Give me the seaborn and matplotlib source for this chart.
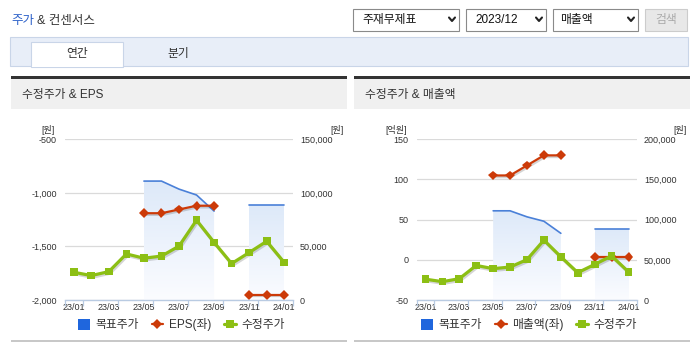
import numpy as np
import pandas as pd
import matplotlib
matplotlib.use('Agg')
import matplotlib.pyplot as plt
import matplotlib.patheffects as pe
import seaborn as sns
from matplotlib.patches import Rectangle
from matplotlib.lines import Line2D
from matplotlib.colors import LinearSegmentedColormap
from matplotlib.ticker import FuncFormatter

# data
months = ['23/01', '23/02', '23/03', '23/04', '23/05', '23/06', '23/07',
          '23/08', '23/09', '23/10', '23/11', '23/12', '24/01']
price = [25900, 22800, 26500, 43000, 39000, 41000, 50300,
         74500, 53800, 34000, 44300, 54800, 35000]
target = [np.nan, np.nan, np.nan, np.nan, 111000, 111000, 103500,
          98000, 83000, np.nan, 88500, 88500, 88500]
eps = [np.nan, np.nan, np.nan, np.nan, -1190, -1190, -1155,
       -1120, -1120, np.nan, -1950, -1950, -1950]
revenue = [np.nan, np.nan, np.nan, np.nan, 105, 105, 117.5,
           130, 130, np.nan, 3.3, 3.3, 3.3]

eps_ticks = [-2000, -1500, -1000, -500]
rev_ticks = [-50, 0, 50, 100, 150]
price_ticks_l = [0, 50000, 100000, 150000]
price_ticks_r = [0, 50000, 100000, 150000, 200000]

df = pd.DataFrame({'month': months, 'price': price, 'target': target,
                   'eps': eps, 'revenue': revenue})
df['x'] = np.arange(len(df)) + 0.5

sns.set_theme(style='white')
FAM = ['Liberation Sans', 'Noto Sans CJK KR', 'DejaVu Sans']
plt.rcParams['font.family'] = FAM

C_BLUE = '#4a80d8'
C_BLUE_SQ = '#1f66dd'
C_RED = '#cc3a08'
C_GREEN = '#8cbf14'
C_AXIS = '#b9cbe2'
C_TXT = '#333333'
TICK_FS = 6.5

W, H = 698, 352
fig = plt.figure(figsize=(W / 100, H / 100), dpi=100)


def fx(x):
    return x / W


def fy(y):
    return 1 - y / H


def frect(x0, y0, x1, y1, **kw):
    fig.add_artist(Rectangle((fx(x0), fy(y1)), (x1 - x0) / W, (y1 - y0) / H,
                             transform=fig.transFigure, **kw))


def ftext(x, y, s, **kw):
    kw.setdefault('color', C_TXT)
    kw.setdefault('va', 'center')
    fig.text(fx(x), fy(y), s, **kw)


def chevron(cx, cy):
    fig.add_artist(Line2D([fx(cx - 3), fx(cx), fx(cx + 3)],
                          [fy(cy - 2), fy(cy + 1.5), fy(cy - 2)],
                          transform=fig.transFigure, color='#222', lw=1.5))


# ---- page chrome ----
ftext(11, 21, '주가', fontsize=9, color='#2a5fc8')
ftext(37, 21, '& 컨센서스', fontsize=9)

frect(353, 9, 459, 31, facecolor='white', edgecolor='#8a8a8a', lw=0.8)
ftext(362, 20, '주재무제표', fontsize=8.5, color='#111')
chevron(452, 19.5)
frect(466, 9, 546, 31, facecolor='white', edgecolor='#8a8a8a', lw=0.8)
ftext(475, 20, '2023/12', fontsize=8.5, color='#111')
chevron(539, 19.5)
frect(553, 9, 638, 31, facecolor='white', edgecolor='#8a8a8a', lw=0.8)
ftext(560, 20, '매출액', fontsize=8.5, color='#111')
chevron(631, 19.5)
frect(645, 9, 687, 31, facecolor='#e8e8e8', edgecolor='#cccccc', lw=0.8)
ftext(666, 20, '검색', fontsize=8.5, color='#aaaaaa', ha='center')

frect(10, 37, 688, 66, facecolor='#e8eef8', edgecolor='#c9d5e8', lw=0.8)
frect(31, 42, 123, 66.6, facecolor='white', edgecolor='#c9d5e8', lw=0.8)
frect(31.5, 65.5, 122.5, 67, facecolor='white', edgecolor='none')
ftext(77, 54, '연간', fontsize=8.5, ha='center')
ftext(178, 54, '분기', fontsize=8.5, ha='center')

for x0, x1 in [(11, 347), (354, 690)]:
    frect(x0, 78.5, x1, 109, facecolor='#f0f0f0', edgecolor='none')
    frect(x0, 76.5, x1, 78.5, facecolor='#333333', edgecolor='none')
    frect(x0, 108.5, x1, 109.3, facecolor='#dcdcdc', edgecolor='none')
    frect(x0, 339.5, x1, 341.5, facecolor='#c8c8c8', edgecolor='none')
ftext(22, 95, '수정주가 & EPS', fontsize=8.5)
ftext(365, 95, '수정주가 & 매출액', fontsize=8.5)

grad_cmap = LinearSegmentedColormap.from_list('g', ['#fbfcff', '#dde9f9'])
shadow = [pe.SimpleLineShadow(offset=(0.8, -1.2), alpha=0.18), pe.Normal()]
fmt = FuncFormatter(lambda v, p: f'{v:,.0f}')


def seg_frame(col):
    d = df[['x', col]].copy()
    d['seg'] = d[col].isna().cumsum()
    return d.dropna()


def panel(px0, px1, left_col, left_ticks, right_ticks, left_name,
          left_unit, unit_xl, unit_xr):
    rect = [fx(px0), fy(300), (px1 - px0) / W, (300 - 139.3) / H]
    ax_l = fig.add_axes(rect)
    ax_b = ax_l.twinx()
    ax_t = ax_l.twinx()
    ax_b.set_zorder(1)
    ax_l.set_zorder(2)
    ax_t.set_zorder(3)
    for a in (ax_l, ax_b, ax_t):
        a.patch.set_visible(False)
        a.set_xlim(0, len(df))
        for s in a.spines.values():
            s.set_visible(False)
        a.grid(False)

    # target price: gradient area + line
    d = seg_frame('target')
    for _, g in d.groupby('seg'):
        poly = ax_b.fill_between(g['x'], g['target'], 0,
                                 facecolor='none', edgecolor='none')
        im = ax_b.imshow(np.linspace(1, 0, 256).reshape(-1, 1), cmap=grad_cmap,
                         aspect='auto', origin='upper', zorder=1,
                         extent=[g['x'].min(), g['x'].max(), 0, g['target'].max()])
        im.set_clip_path(poly.get_paths()[0], transform=ax_b.transData)
    sns.lineplot(data=d, x='x', y='target', units='seg', estimator=None,
                 ax=ax_b, color=C_BLUE, lw=1.2, legend=False, zorder=2)

    # left series
    d = seg_frame(left_col)
    sns.lineplot(data=d, x='x', y=left_col, units='seg', estimator=None,
                 ax=ax_l, color=C_RED, lw=1.6, marker='D', markersize=5,
                 markeredgewidth=0, legend=False)
    for ln in ax_l.lines:
        ln.set_path_effects(shadow)

    # adjusted price
    sns.lineplot(data=df, x='x', y='price', ax=ax_t, color=C_GREEN, lw=2.3,
                 marker='s', markersize=5.5, markeredgewidth=0, legend=False)
    for ln in ax_t.lines:
        ln.set_path_effects(shadow)

    ax_l.set_ylim(left_ticks[0], left_ticks[-1])
    ax_b.set_ylim(right_ticks[0], right_ticks[-1])
    ax_t.set_ylim(right_ticks[0], right_ticks[-1])
    ax_b.set_xlim(0, len(df))

    ax_b.set_yticks(right_ticks)
    ax_b.yaxis.set_major_formatter(fmt)
    ax_b.yaxis.grid(True, color='#dadada', lw=0.9)
    ax_b.tick_params(axis='y', length=0, pad=5, labelsize=TICK_FS,
                     labelcolor=C_TXT)
    ax_b.tick_params(axis='x', bottom=False, labelbottom=False)
    ax_t.set_yticks([])
    ax_t.tick_params(axis='x', bottom=False, labelbottom=False)

    ax_l.set_yticks(left_ticks)
    ax_l.yaxis.set_major_formatter(fmt)
    ax_l.tick_params(axis='y', length=0, pad=6, labelsize=TICK_FS,
                     labelcolor=C_TXT)
    ax_l.spines['bottom'].set_visible(True)
    ax_l.spines['bottom'].set_color(C_AXIS)
    ax_l.spines['bottom'].set_linewidth(1)
    ax_l.set_xticks(df['x'][::2])
    ax_l.set_xticklabels(df['month'][::2])
    ax_l.set_xticks([0] + list(range(1, len(df) + 1, 2)), minor=True)
    ax_l.tick_params(axis='x', which='major', length=0, pad=2,
                     labelsize=TICK_FS, labelcolor=C_TXT)
    ax_l.tick_params(axis='x', which='minor', bottom=True, length=4,
                     width=0.9, color=C_AXIS)
    for a in (ax_l, ax_b, ax_t):
        a.set_xlabel('')
        a.set_ylabel('')

    ftext(unit_xl, 130, left_unit, fontsize=6.5, ha='center')
    ftext(unit_xr, 130, '[원]', fontsize=6.5, ha='center')

    handles = [Rectangle((0, 0), 1, 1, facecolor=C_BLUE_SQ, edgecolor='none'),
               Line2D([], [], color=C_RED, lw=1.6, marker='D', markersize=5,
                      markeredgewidth=0),
               Line2D([], [], color=C_GREEN, lw=2.3, marker='s', markersize=5.5,
                      markeredgewidth=0)]
    leg = ax_t.legend(handles, ['목표주가', left_name, '수정주가'], loc='center',
                      bbox_to_anchor=(0.51, -0.155), ncol=3, frameon=False,
                      fontsize=8.5, handlelength=1.0, handleheight=1.0,
                      handletextpad=0.45, columnspacing=1.1, borderaxespad=0)
    for t in leg.get_texts():
        t.set_color(C_TXT)


panel(65, 293, 'eps', eps_ticks, price_ticks_l, 'EPS(좌)', '[원]', 48, 337)
panel(417, 637, 'revenue', rev_ticks, price_ticks_r, '매출액(좌)', '[억원]',
      396, 680)

fig.savefig('out.png', dpi=100, facecolor='white')
